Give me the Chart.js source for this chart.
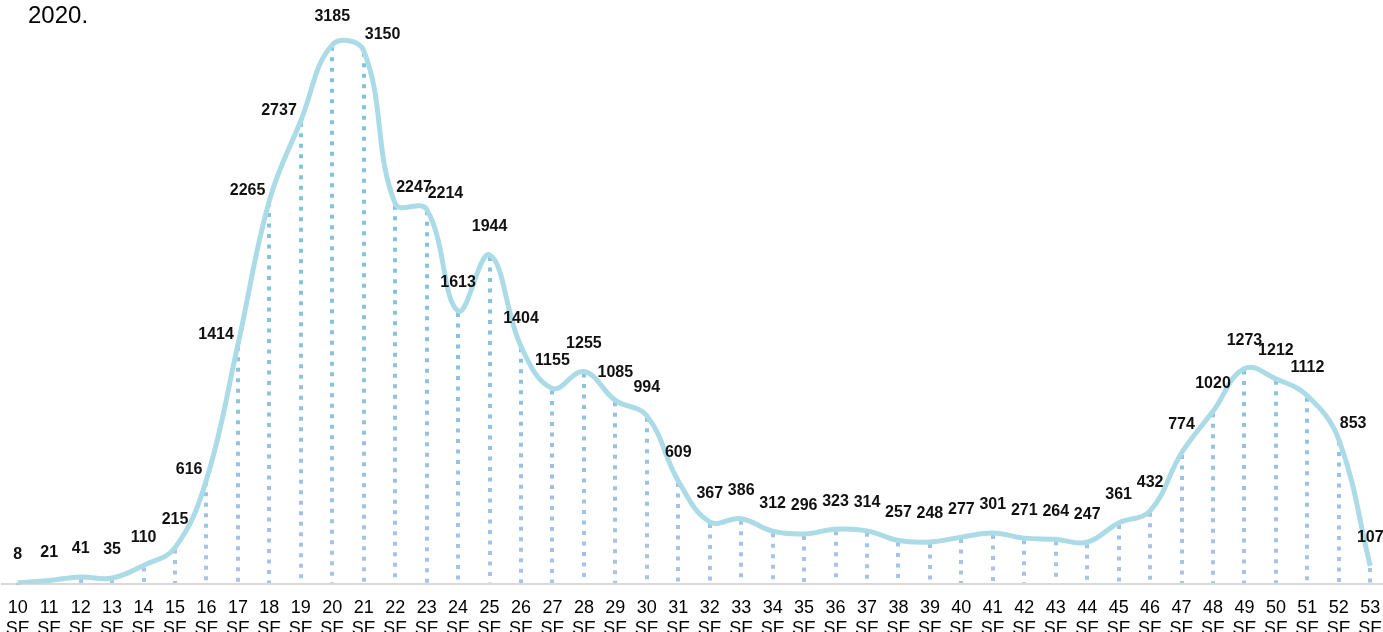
<!DOCTYPE html>
<html>
<head>
<meta charset="utf-8">
<script src="https://cdn.jsdelivr.net/npm/chart.js@4"></script>
<style>
  html, body { margin: 0; padding: 0; background: #fff; overflow: hidden; }
  #wrap { position: relative; width: 1388px; height: 632px; }
  #title { position: absolute; left: 28px; top: 1px; font: 24px "Liberation Sans", Arial, sans-serif; color: #000; }
</style>
</head>
<body>
<div id="wrap">
  <canvas id="c" width="1388" height="632"></canvas>
  <div id="title">2020.</div>
</div>
<script>
const weeks = [10,11,12,13,14,15,16,17,18,19,20,21,22,23,24,25,26,27,28,29,30,31,32,33,34,35,36,37,38,39,40,41,42,43,44,45,46,47,48,49,50,51,52,53];
const categories = weeks.map(w => [String(w), 'SE']);
const cases = [8,21,41,35,110,215,616,1414,2265,2737,3185,3150,2247,2214,1613,1944,1404,1155,1255,1085,994,609,367,386,312,296,323,314,257,248,277,301,271,264,247,361,432,774,1020,1273,1212,1112,853,107];

const dropLines = {
  id: 'dropLines',
  beforeDatasetsDraw(chart) {
    const ctx = chart.ctx;
    const meta = chart.getDatasetMeta(0);
    const yScale = chart.scales.y;
    const base = yScale.getPixelForValue(0);
    const area = chart.chartArea;
    const g = ctx.createLinearGradient(0, area.top, 0, area.bottom);
    g.addColorStop(0, '#7cc4da');
    g.addColorStop(0.6, '#88c2df');
    g.addColorStop(1, '#a9c3e9');
    ctx.save();
    ctx.strokeStyle = g;
    ctx.lineWidth = 4;
    ctx.setLineDash([4, 6.5]);
    meta.data.forEach(pt => {
      const x = Math.round(pt.x);
      ctx.beginPath();
      ctx.moveTo(x, pt.y + 2);
      ctx.lineTo(x, base - 1);
      ctx.stroke();
    });
    ctx.restore();
  }
};

const valueLabels = {
  id: 'valueLabels',
  afterDatasetsDraw(chart) {
    const ctx = chart.ctx;
    const meta = chart.getDatasetMeta(0);
    const data = chart.data.datasets[0].data;
    ctx.save();
    ctx.font = 'bold 16px "Liberation Sans", Arial, sans-serif';
    ctx.fillStyle = '#111';
    ctx.textBaseline = 'middle';
    meta.data.forEach((pt, i) => {
      const v = data[i];
      const inner = i > 0 && i < data.length - 1;
      const prev = i > 0 ? data[i - 1] : v;
      const next = i < data.length - 1 ? data[i + 1] : v;
      const up1 = v - prev, up2 = next - v;
      const dn1 = prev - v, dn2 = v - next;
      if (inner && up1 >= 0 && up2 >= 0 && Math.max(up1, up2) > 440) {
        ctx.textAlign = 'right';
        ctx.fillText(String(v), pt.x - 4, pt.y - 10);
      } else if (inner && dn1 >= 0 && dn2 >= 0 && Math.max(dn1, dn2) > 550) {
        ctx.textAlign = 'left';
        ctx.fillText(String(v), pt.x + 1, pt.y - 16);
      } else {
        ctx.textAlign = 'center';
        ctx.fillText(String(v), pt.x, pt.y - 28);
      }
    });
    ctx.restore();
  }
};

new Chart(document.getElementById('c'), {
  type: 'line',
  data: {
    labels: categories,
    datasets: [{
      data: cases,
      borderColor: '#aadbe7',
      borderWidth: 5,
      tension: 0.4,
      pointRadius: 0,
      fill: false
    }]
  },
  options: {
    responsive: false,
    animation: false,
    layout: { padding: { left: 2, right: 2, top: 0, bottom: 0 } },
    plugins: { legend: { display: false }, tooltip: { enabled: false } },
    scales: {
      y: { display: false, min: 0, max: 3450 },
      x: {
        offset: true,
        grid: { display: false, drawTicks: false },
        border: { display: true, color: '#d9d9d9', width: 2 },
        ticks: {
          color: '#000',
          font: { size: 18, family: '"Liberation Sans", Arial, sans-serif', lineHeight: 1.15 },
          padding: 14,
          maxRotation: 0,
          autoSkip: false
        },
        afterFit(scale) { scale.height = 48; scale.paddingLeft = 0; scale.paddingRight = 0; }
      }
    }
  },
  plugins: [dropLines, valueLabels]
});
</script>
</body>
</html>
